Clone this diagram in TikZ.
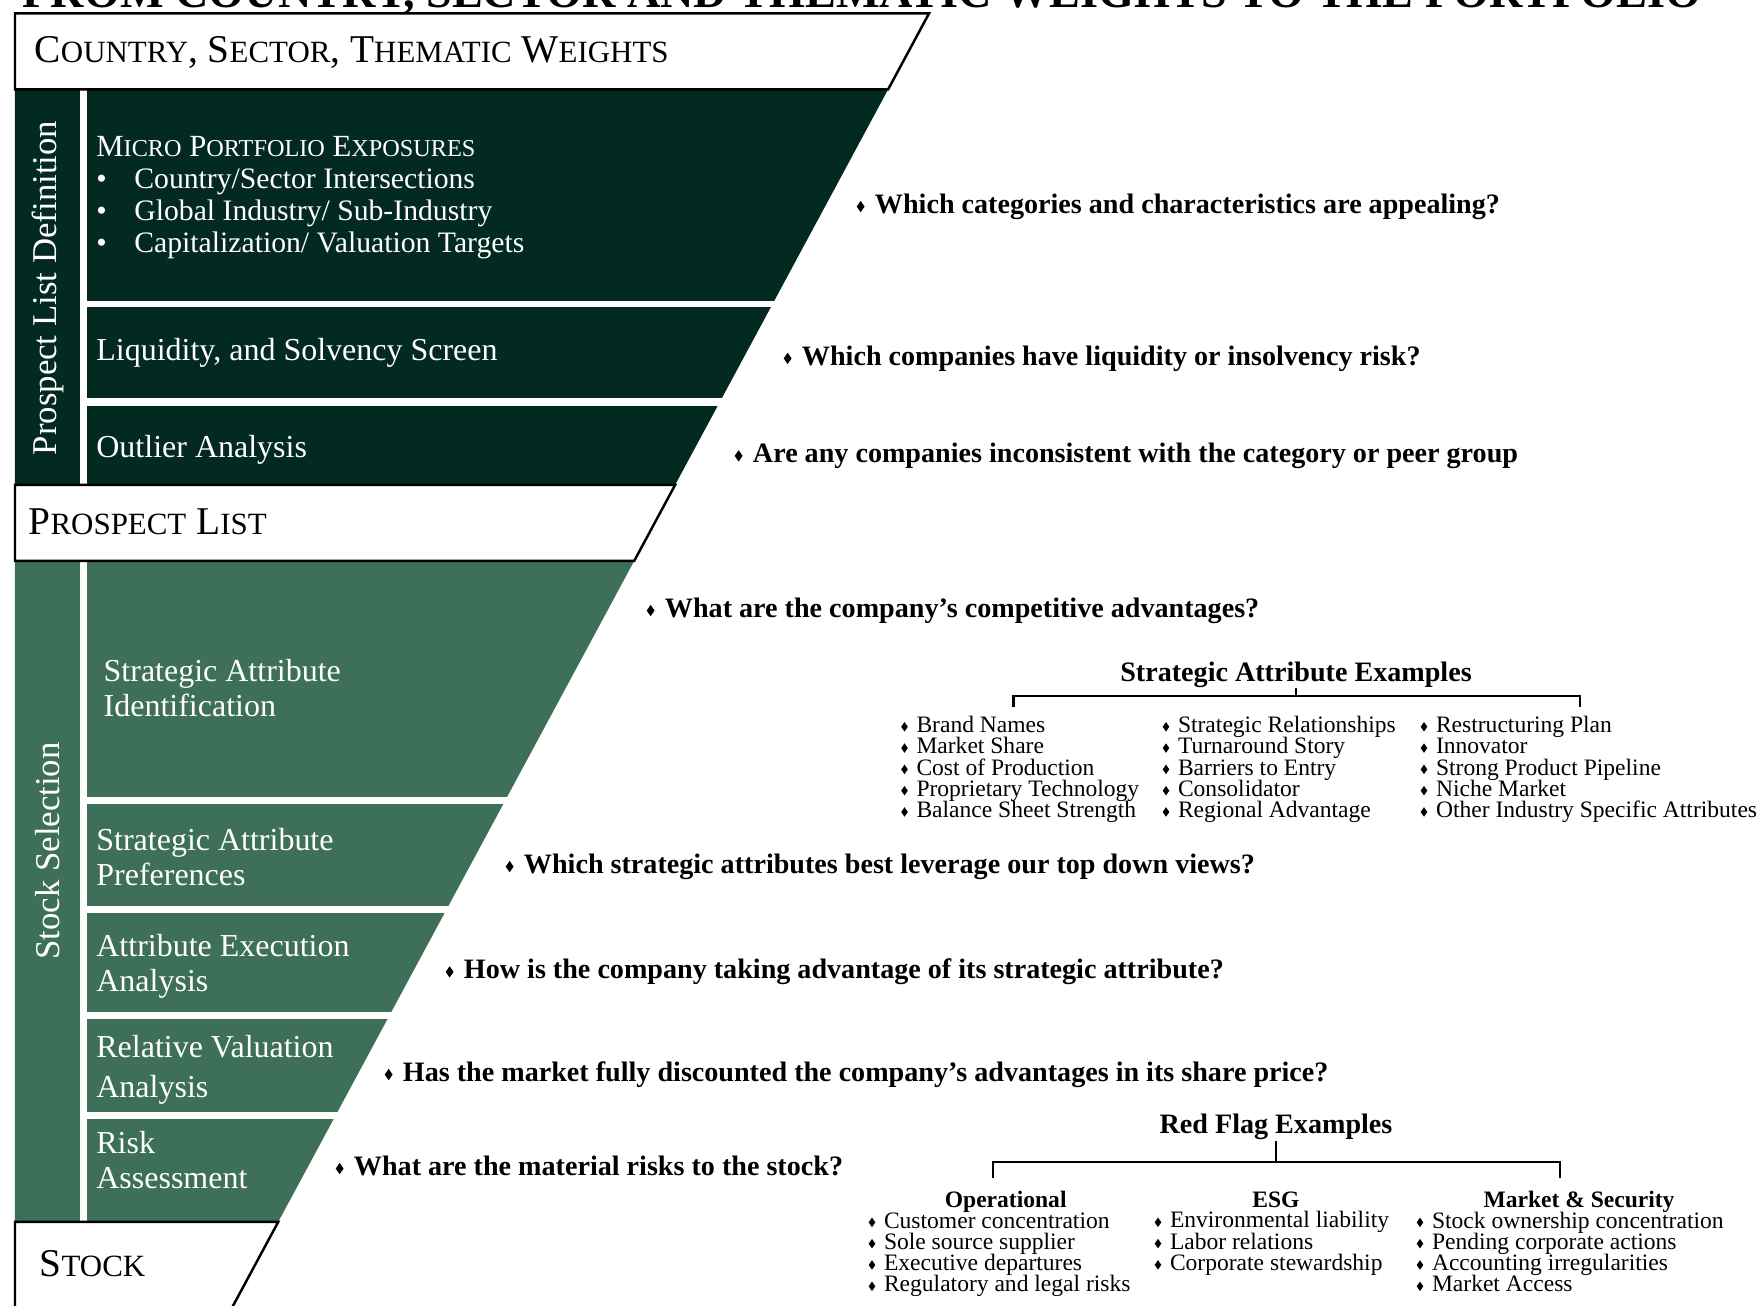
\documentclass[tikz,border=0pt]{standalone}
\usepackage{fontspec}
\setmainfont{Liberation Serif}
\usepackage{tikz}
\usepackage{color}

\definecolor{pine}{HTML}{022A20}
\definecolor{fern}{HTML}{3D6F59}

\newcommand{\dia}{\raisebox{0.04em}{\scalebox{0.9}[1.3]{\rotatebox{45}{\rule{0.22em}{0.22em}}}}\hspace{0.37em}}
\newcommand{\lc}[2][8.8]{{\fontsize{#1}{#1}\selectfont #2}}

\tikzset{
  base/.style={inner sep=0pt, anchor=base west},
  funnelbox/.style={fill=white, draw=black, line width=0.7pt},
  boxlabel/.style={base, font=\fontsize{11.2}{13}\selectfont},
  steplabel/.style={base, text=white, align=left, font=\fontsize{9.1}{10}\selectfont},
  sidelabel/.style={inner sep=0pt, text=white, rotate=90, font=\fontsize{9.9}{11}\selectfont},
  question/.style={base, font=\fontsize{8}{9}\selectfont\bfseries},
  exhead/.style={inner sep=0pt, anchor=base, font=\fontsize{8}{9}\selectfont\bfseries},
  exsub/.style={inner sep=0pt, anchor=base, font=\fontsize{6.7}{7}\selectfont\bfseries},
  exlist/.style={base, align=left, font={\fontsize{6.7}{6.06}\selectfont\lineskiplimit=-10pt}},
  bracket/.style={line width=0.6pt}
}

\begin{document}
\begin{tikzpicture}
\clip (0,0) rectangle (17.6,13.06);

\fill[pine] (0.15,12.165) -- (8.881,12.165) -- (6.751,8.21) -- (0.15,8.21) -- cycle;
\fill[white] (0.80,12.165) rectangle (0.87,8.21);
\fill[white] (0.87,10.05) rectangle (9,9.985);
\fill[white] (0.87,9.075) rectangle (9,9.00);

\fill[fern] (0.15,7.45) -- (6.342,7.45) -- (2.782,0.84) -- (0.15,0.84) -- cycle;
\fill[white] (0.80,7.45) rectangle (0.87,0.84);
\fill[white] (0.87,5.09) rectangle (7,5.02);
\fill[white] (0.87,4.00) rectangle (7,3.93);
\fill[white] (0.87,2.94) rectangle (7,2.87);
\fill[white] (0.87,1.94) rectangle (7,1.87);

\draw[funnelbox] (0.15,12.925) -- (9.29,12.925) -- (8.881,12.165) -- (0.15,12.165) -- cycle;
\draw[funnelbox] (0.15,8.21) -- (6.751,8.21) -- (6.342,7.45) -- (0.15,7.45) -- cycle;
\draw[funnelbox] (0.15,0.84) -- (2.782,0.84) -- (2.254,-0.14) -- (0.15,-0.14) -- cycle;

\node[base, font=\fontsize{13.15}{15}\selectfont\bfseries] (heading) at (0.22,12.98) {FROM COUNTRY, SECTOR AND THEMATIC WEIGHTS TO THE PORTFOLIO};
\node[boxlabel] (weights) at (0.34,12.43) {C\lc{OUNTRY}, S\lc{ECTOR}, T\lc{HEMATIC} W\lc{EIGHTS}};
\node[boxlabel] (prospects) at (0.28,7.71) {P\lc{ROSPECT} L\lc{IST}};
\node[boxlabel] (stock) at (0.39,0.29) {S\lc{TOCK}};

\node[sidelabel] (definition) at (0.475,10.18) {Prospect List Definition};
\node[sidelabel] (selection) at (0.475,4.55) {Stock Selection};

\node[steplabel, font=\fontsize{8.75}{9.1}\selectfont] (micro) at (0.957,10.535) {M\lc[6.9]{ICRO} P\lc[6.9]{ORTFOLIO} E\lc[6.9]{XPOSURES}\\
{\fontsize{8.45}{9.1}\selectfont\makebox[10.8pt][l]{\textbullet}Country/Sector Intersections}\\
{\fontsize{8.45}{9.1}\selectfont\makebox[10.8pt][l]{\textbullet}Global Industry/ Sub-Industry}\\
{\fontsize{8.45}{9.1}\selectfont\makebox[10.8pt][l]{\textbullet}Capitalization/ Valuation Targets}};
\node[steplabel] (liquidity) at (0.957,9.456) {Liquidity, and Solvency Screen};
\node[steplabel] (outlier) at (0.957,8.485) {Outlier Analysis};
\node[steplabel] (identification) at (1.03,5.896) {Strategic Attribute\\Identification};
\node[steplabel] (preferences) at (0.957,4.205) {Strategic Attribute\\Preferences};
\node[steplabel] (execution) at (0.957,3.146) {Attribute Execution\\Analysis};
\node[steplabel, font=\fontsize{9.1}{11.4}\selectfont] (valuation) at (0.957,2.08) {Relative Valuation\\Analysis};
\node[steplabel] (risk) at (0.957,1.17) {Risk\\Assessment};

\node[question] (q-micro) at (8.56,10.926) {\dia Which categories and characteristics are appealing?};
\node[question] (q-liquidity) at (7.83,9.408) {\dia Which companies have liquidity or insolvency risk?};
\node[question] (q-outlier) at (7.34,8.433) {\dia Are any companies inconsistent with the category or peer group};
\node[question] (q-identification) at (6.46,6.886) {\dia What are the company's competitive advantages?};
\node[question] (q-preferences) at (5.05,4.326) {\dia Which strategic attributes best leverage our top down views?};
\node[question] (q-execution) at (4.45,3.273) {\dia How is the company taking advantage of its strategic attribute?};
\node[question] (q-valuation) at (3.84,2.246) {\dia Has the market fully discounted the company's advantages in its share price?};
\node[question] (q-risk) at (3.35,1.306) {\dia What are the material risks to the stock?};

\node[exhead] (sae) at (12.96,6.246) {Strategic Attribute Examples};
\coordinate (sae-m) at (12.96,6.10);
\coordinate (sae-l) at (10.135,5.99);
\coordinate (sae-r) at (15.80,5.99);
\draw[bracket] (sae.south) -- (sae-m);
\draw[bracket] (sae-l) |- (sae-m) -| (sae-r);
\node[exlist] (sae-1) at (9.005,4.883) {\dia Brand Names\\\dia Market Share\\\dia Cost of Production\\\dia Proprietary Technology\\\dia Balance Sheet Strength};
\node[exlist] (sae-2) at (11.62,4.883) {\dia Strategic Relationships\\\dia Turnaround Story\\\dia Barriers to Entry\\\dia Consolidator\\\dia Regional Advantage};
\node[exlist] (sae-3) at (14.20,4.883) {\dia Restructuring Plan\\\dia Innovator\\\dia Strong Product Pipeline\\\dia Niche Market\\\dia Other Industry Specific Attributes};

\node[exhead] (rfe) at (12.76,1.72) {Red Flag Examples};
\coordinate (rfe-m) at (12.76,1.443);
\coordinate (rfe-l) at (9.93,1.275);
\coordinate (rfe-r) at (15.60,1.275);
\draw[bracket] (rfe.south) -- (rfe-m);
\draw[bracket] (rfe-l) |- (rfe-m) -| (rfe-r);
\node[exsub] (ops) at (10.057,0.985) {Operational};
\node[exsub] (esg) at (12.76,0.985) {ESG};
\node[exsub] (mkt) at (15.79,0.985) {Market \& Security};
\node[exlist] (ops-list) at (8.68,0.14) {\dia Customer concentration\\\dia Sole source supplier\\\dia Executive departures\\\dia Regulatory and legal risks};
\node[exlist] (esg-list) at (11.54,0.354) {\dia Environmental liability\\\dia Labor relations\\\dia Corporate stewardship};
\node[exlist] (mkt-list) at (14.16,0.14) {\dia Stock ownership concentration\\\dia Pending corporate actions\\\dia Accounting irregularities\\\dia Market Access};
\end{tikzpicture}
\end{document}
